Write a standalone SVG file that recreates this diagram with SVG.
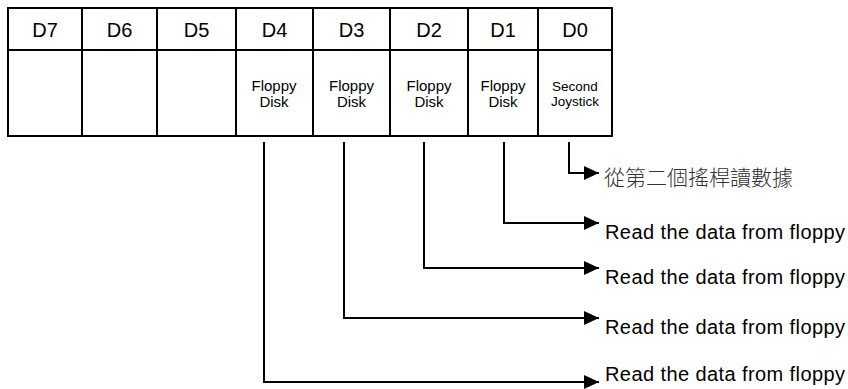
<svg xmlns="http://www.w3.org/2000/svg" width="848" height="389" viewBox="0 0 848 389">
<defs>
<style>
.cell{fill:#fff;stroke:#000;stroke-width:2}
.hd{font-family:"Liberation Sans",Arial,sans-serif;font-size:20px;text-anchor:middle;fill:#000}
.fd{font-family:"Liberation Sans",Arial,sans-serif;font-size:15px;text-anchor:middle;fill:#000}
.sj{font-family:"Liberation Sans",Arial,sans-serif;font-size:13.5px;text-anchor:middle;fill:#000}
.lbl{font-family:"Liberation Sans",Arial,sans-serif;font-size:20px;fill:#000}
.cjk{font-family:"Noto Sans CJK TC","Noto Sans CJK SC",sans-serif;font-size:21px;fill:#333;font-weight:300}
.wire{fill:none;stroke:#000;stroke-width:2;marker-end:url(#arr)}
</style>
<marker id="arr" markerUnits="userSpaceOnUse" markerWidth="15" markerHeight="14" refX="15" refY="7" orient="auto" viewBox="0 0 15 14">
<path d="M0,0 L15,7 L0,14 z" fill="#000"/>
</marker>
</defs>
<rect width="848" height="389" fill="#fff"/>
<g id="register">
<g id="d7"><rect class="cell" x="8" y="8" width="74" height="42"/><rect class="cell" x="8" y="50" width="74" height="86"/><text class="hd" x="45" y="37">D7</text></g>
<g id="d6"><rect class="cell" x="82" y="8" width="75" height="42"/><rect class="cell" x="82" y="50" width="75" height="86"/><text class="hd" x="119.5" y="37">D6</text></g>
<g id="d5"><rect class="cell" x="157" y="8" width="79" height="42"/><rect class="cell" x="157" y="50" width="79" height="86"/><text class="hd" x="196.5" y="37">D5</text></g>
<g id="d4"><rect class="cell" x="236" y="8" width="77" height="42"/><rect class="cell" x="236" y="50" width="77" height="86"/><text class="hd" x="274.5" y="37">D4</text><text class="fd" x="274" y="91">Floppy</text><text class="fd" x="274" y="107">Disk</text></g>
<g id="d3"><rect class="cell" x="313" y="8" width="77" height="42"/><rect class="cell" x="313" y="50" width="77" height="86"/><text class="hd" x="351.5" y="37">D3</text><text class="fd" x="351.5" y="91">Floppy</text><text class="fd" x="351.5" y="107">Disk</text></g>
<g id="d2"><rect class="cell" x="390" y="8" width="78" height="42"/><rect class="cell" x="390" y="50" width="78" height="86"/><text class="hd" x="429" y="37">D2</text><text class="fd" x="429" y="91">Floppy</text><text class="fd" x="429" y="107">Disk</text></g>
<g id="d1"><rect class="cell" x="468" y="8" width="70" height="42"/><rect class="cell" x="468" y="50" width="70" height="86"/><text class="hd" x="503" y="37">D1</text><text class="fd" x="503" y="91">Floppy</text><text class="fd" x="503" y="107">Disk</text></g>
<g id="d0"><rect class="cell" x="538" y="8" width="74" height="42"/><rect class="cell" x="538" y="50" width="74" height="86"/><text class="hd" x="575" y="37">D0</text><text class="sj" x="575" y="91">Second</text><text class="sj" x="575" y="106">Joystick</text></g>
</g>
<g id="connectors">
<path class="wire" d="M569,142 V173 H599"/>
<path class="wire" d="M504,142 V223 H599"/>
<path class="wire" d="M424,142 V268 H599"/>
<path class="wire" d="M344,142 V318 H599"/>
<path class="wire" d="M264,142 V382 H599"/>
</g>
<g id="labels">
<text class="cjk" x="604" y="185">從第二個搖桿讀數據</text>
<text class="lbl" x="605" y="239" textLength="240">Read the data from floppy</text>
<text class="lbl" x="605" y="284" textLength="240">Read the data from floppy</text>
<text class="lbl" x="605" y="334" textLength="240">Read the data from floppy</text>
<text class="lbl" x="605" y="381" textLength="240">Read the data from floppy</text>
</g>
</svg>
